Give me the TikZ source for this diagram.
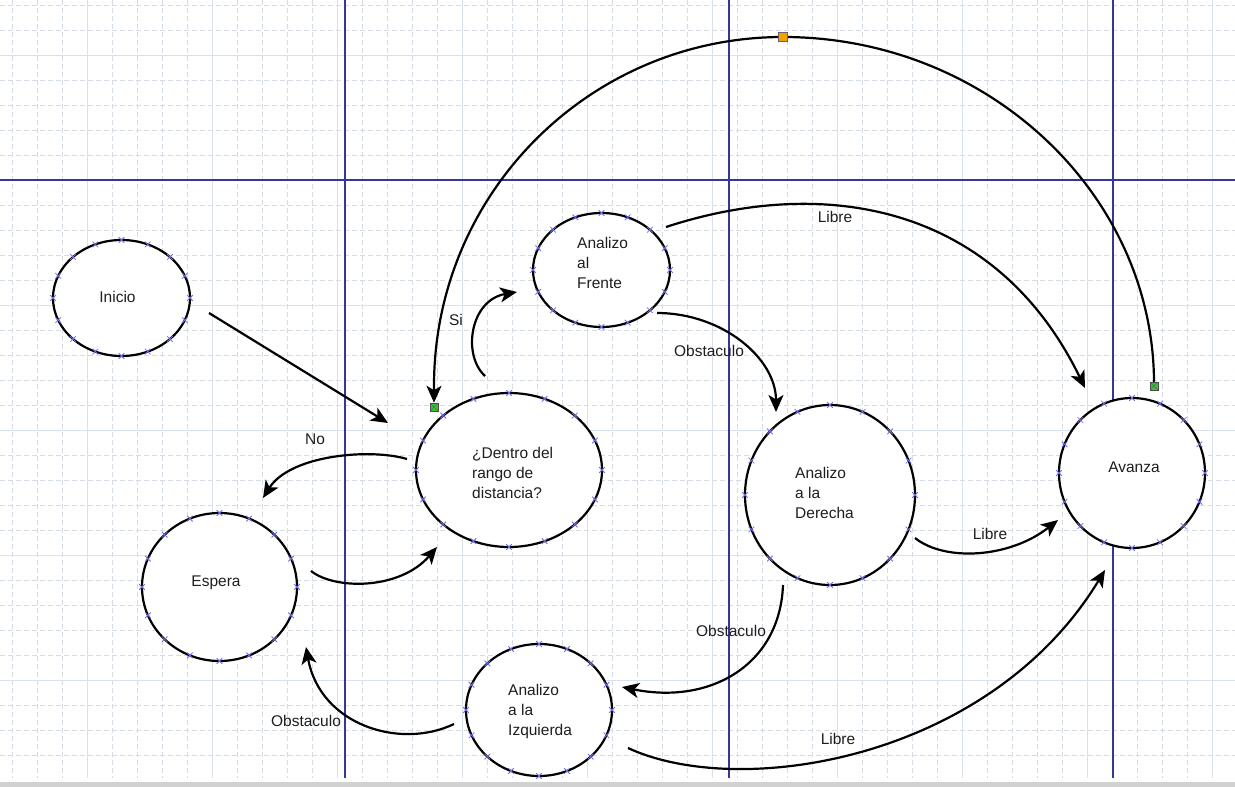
\documentclass[tikz,border=0pt]{standalone}
\usepackage{fontspec}
\setmainfont{Liberation Sans}
\usetikzlibrary{shapes.geometric,arrows.meta}
\definecolor{gridc}{HTML}{D6DCE3}
\definecolor{gridm}{HTML}{D9E1EA}
\definecolor{pagec}{HTML}{35359A}
\definecolor{xmc}{HTML}{6E6EE6}
\definecolor{txtc}{HTML}{1E1E1E}
\definecolor{gsqc}{HTML}{2EC82E}
\definecolor{osqc}{HTML}{F2A200}
\newcommand\mystate[5]{%
  \node[state, minimum width={2*#4}, minimum height={2*#5}] (#1) at (#2,#3) {};
  \foreach \a in {0,22.5,...,337.5}{%
    \draw[xmk] ({#2+#4*cos(\a)},{#3+#5*sin(\a)}) +(-2.8,-2.8) -- +(2.8,2.8) +(-2.8,2.8) -- +(2.8,-2.8);
  }%
}
\begin{document}
\begin{tikzpicture}[x=1pt,y=-1pt,
  state/.style={ellipse, draw=black, line width=2.2pt, fill=white, inner sep=0pt},
  txt/.style={font=\fontsize{15.5}{20}\selectfont, text=txtc, inner sep=0pt, align=left},
  lbl/.style={font=\fontsize{15.5}{20}\selectfont, text=txtc, inner sep=0pt},
  conn/.style={line width=2.2pt, -{Stealth[length=17pt,width=15pt,inset=4.5pt]}},
  xmk/.style={draw=xmc, line width=0.8pt},
  gdash/.style={draw=gridc, line width=0.8pt, dash pattern=on 5pt off 3pt},
  gsolid/.style={draw=gridm, line width=1pt},
  pageline/.style={draw=pagec, line width=1.3pt},
  gsq/.style={rectangle, fill=gsqc, draw=black!70, line width=0.5pt, minimum size=8pt, inner sep=0pt,
    path picture={\draw[black!60, line width=0.5pt] (path picture bounding box.south west) -- (path picture bounding box.north east) (path picture bounding box.north west) -- (path picture bounding box.south east);}},
  osq/.style={rectangle, fill=osqc, draw=black!60, line width=0.6pt, minimum size=9pt, inner sep=0pt},
]
\useasboundingbox (0,0) rectangle (1235,787);
\fill[white] (0,0) rectangle (1235,787);
\fill[black!18] (0,782) rectangle (1235,787);
% grid
\foreach \i in {0,...,49}{%
  \pgfmathtruncatemacro\r{mod(\i,5)}%
  \ifnum\r=3 \draw[gsolid] ({12.5+25*\i},0) -- ({12.5+25*\i},778);
  \else \draw[gdash] ({12.5+25*\i},0) -- ({12.5+25*\i},778); \fi
}
\foreach \j in {0,...,30}{%
  \pgfmathtruncatemacro\r{mod(\j,5)}%
  \ifnum\r=2 \draw[gsolid] (0,{5+25*\j}) -- (1235,{5+25*\j});
  \else \draw[gdash] (0,{5+25*\j}) -- (1235,{5+25*\j}); \fi
}
% page lines
\draw[pageline] (345,0) -- (345,778);
\draw[pageline] (729,0) -- (729,778);
\draw[pageline] (1113,0) -- (1113,778);
\draw[pageline] (0,180) -- (1235,180);

% states
\mystate{inicio}{121.5}{298}{68.5}{58}
\mystate{frente}{601.5}{270}{68.5}{57}
\mystate{dentro}{509}{470}{93}{77}
\mystate{espera}{219.5}{587}{77.5}{74}
\mystate{derecha}{830}{495}{85}{90}
\mystate{avanza}{1132}{473}{73}{75}
\mystate{izq}{539}{710}{73}{66}

\node[txt] (inicio-t) at (117.5,297) {Inicio};
\node[txt, anchor=west] (frente-t) at (577,263) {Analizo\\al\\Frente};
\node[txt, anchor=west] (dentro-t) at (472,473) {¿Dentro del\\rango de\\distancia?};
\node[txt] (espera-t) at (216,583) {Espera};
\node[txt, anchor=west] (derecha-t) at (795,493) {Analizo\\a la\\Derecha};
\node[txt] (avanza-t) at (1134,467) {Avanza};
\node[txt, anchor=west] (izq-t) at (508,711) {Analizo\\a la\\Izquierda};

% connector end points
\coordinate (c1s) at (209,313);   \coordinate (c1e) at (388,423);
\coordinate (c2s) at (485,376);   \coordinate (c2e) at (517,292);
\coordinate (c4s) at (666,227);   \coordinate (c4e) at (1085,388);
\coordinate (c5s) at (657,313);   \coordinate (c5e) at (776,412);
\coordinate (c6s) at (407,459);   \coordinate (c6e) at (263,498);
\coordinate (c7s) at (311,571);   \coordinate (c7e) at (437,547);
\coordinate (c8s) at (915,538);   \coordinate (c8e) at (1058,520);
\coordinate (c9s) at (783,585);   \coordinate (c9e) at (622,687);
\coordinate (c10s) at (454,724);  \coordinate (c10e) at (306,647);
\coordinate (c11s) at (628,748);  \coordinate (c11e) at (1105,570);

% handles
\node[gsq] (g1) at (434,407) {};
\node[gsq] (g2) at (1154,386) {};
\node[osq] (o1) at (783,37) {};

% connectors
\draw[conn] (c1s) -- (c1e);
\draw[conn] (c2s) .. controls (462,355) and (470,300) .. (c2e);
\draw[conn] (g2.north) .. controls (1153,193) and (987,37) .. (o1.center)
   .. controls (590,37) and (434,193) .. (434,386) -- (g1.north);
\draw[conn] (c4s) .. controls (828,174) and (997,207) .. (c4e);
\draw[conn] (c5s) .. controls (722,313) and (776,358) .. (c5e);
\draw[conn] (c6s) .. controls (370,448) and (290,455) .. (c6e);
\draw[conn] (c7s) .. controls (335,590) and (400,590) .. (c7e);
\draw[conn] (c8s) .. controls (945,562) and (1010,558) .. (c8e);
\draw[conn] (c9s) .. controls (780,665) and (710,705) .. (c9e);
\draw[conn] (c10s) .. controls (400,750) and (320,725) .. (c10e);
\draw[conn] (c11s) .. controls (740,800) and (990,760) .. (c11e);

% redraw handles on top
\node[gsq] at (g1) {};
\node[gsq] at (g2) {};
\node[osq] at (o1) {};

% labels
\node[lbl] (l-si) at (456,320) {Si};
\node[lbl] (l-libre1) at (835,217) {Libre};
\node[lbl] (l-obs1) at (709,351) {Obstaculo};
\node[lbl] (l-no) at (315,439) {No};
\node[lbl] (l-libre2) at (990,534) {Libre};
\node[lbl] (l-obs2) at (731,631) {Obstaculo};
\node[lbl] (l-obs3) at (306,721) {Obstaculo};
\node[lbl] (l-libre3) at (838,739) {Libre};
\end{tikzpicture}
\end{document}
